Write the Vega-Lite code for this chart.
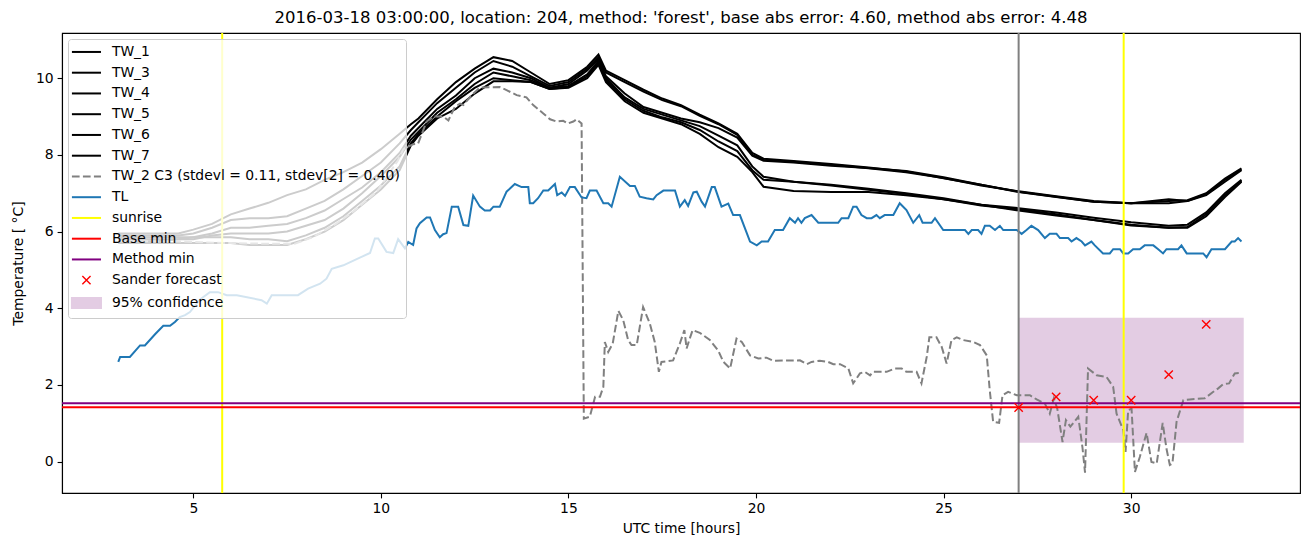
{
"$schema": "https://vega.github.io/schema/vega-lite/v6.json",
"width": 1238, "height": 460,
"autosize": "none",
"padding": {"left": 62, "top": 33, "right": 10, "bottom": 54},
"background": "white",
"title": {"text": "2016-03-18 03:00:00, location: 204, method: 'forest', base abs error: 4.60, method abs error: 4.48", "fontSize": 16.5, "font": "DejaVu Sans", "fontWeight": "normal", "color": "black", "offset": 6, "anchor": "middle"},
"config": {
  "font": "DejaVu Sans",
  "view": {"stroke": "black", "strokeWidth": 1.1},
  "axis": {"grid": false, "domainColor": "black", "tickColor": "black", "labelColor": "black", "titleColor": "black", "labelFontSize": 13.9, "titleFontSize": 13.9, "titleFontWeight": "normal", "tickSize": 4.9, "labelPadding": 4, "domainWidth": 1.1, "tickWidth": 1.1, "labelFont": "DejaVu Sans", "titleFont": "DejaVu Sans"},
  "legend": {"orient": "top-left", "offset": 6, "padding": 6, "symbolSize": 196, "rowPadding": 5.75, "labelOffset": 24, "labelFontSize": 13.9, "labelFont": "DejaVu Sans", "labelColor": "black", "labelLimit": 600, "fillColor": "rgba(255,255,255,0.8)", "strokeColor": "#cccccc", "cornerRadius": 3, "zindex": 1}
},
"datasets": {
"tw": [
{"t":3,"TW_1":5.95,"TW_3":5.9,"TW_4":5.85,"TW_5":5.8,"TW_6":5.75,"TW_7":5.7},
{"t":4,"TW_1":5.95,"TW_3":5.9,"TW_4":5.85,"TW_5":5.8,"TW_6":5.75,"TW_7":5.7},
{"t":4.6,"TW_1":5.95,"TW_3":5.9,"TW_4":5.85,"TW_5":5.8,"TW_6":5.8,"TW_7":5.7},
{"t":5,"TW_1":6.05,"TW_3":5.95,"TW_4":5.85,"TW_5":5.8,"TW_6":5.85,"TW_7":5.7},
{"t":5.5,"TW_1":6.2,"TW_3":6.1,"TW_4":5.95,"TW_5":5.9,"TW_6":5.85,"TW_7":5.7},
{"t":6,"TW_1":6.45,"TW_3":6.3,"TW_4":6.1,"TW_5":5.95,"TW_6":5.85,"TW_7":5.7},
{"t":6.5,"TW_1":6.6,"TW_3":6.35,"TW_4":6.1,"TW_5":5.95,"TW_6":5.8,"TW_7":5.65},
{"t":7,"TW_1":6.75,"TW_3":6.35,"TW_4":6.15,"TW_5":5.95,"TW_6":5.8,"TW_7":5.65},
{"t":7.5,"TW_1":6.95,"TW_3":6.4,"TW_4":6.2,"TW_5":6.0,"TW_6":5.75,"TW_7":5.65},
{"t":8,"TW_1":7.1,"TW_3":6.6,"TW_4":6.35,"TW_5":6.15,"TW_6":5.9,"TW_7":5.8},
{"t":8.5,"TW_1":7.35,"TW_3":6.8,"TW_4":6.55,"TW_5":6.3,"TW_6":6.1,"TW_7":6.0},
{"t":9,"TW_1":7.55,"TW_3":7.1,"TW_4":6.85,"TW_5":6.6,"TW_6":6.4,"TW_7":6.3},
{"t":9.5,"TW_1":7.8,"TW_3":7.45,"TW_4":7.15,"TW_5":7.0,"TW_6":6.8,"TW_7":6.7},
{"t":10,"TW_1":8.15,"TW_3":7.8,"TW_4":7.55,"TW_5":7.45,"TW_6":7.2,"TW_7":7.1},
{"t":10.5,"TW_1":8.55,"TW_3":8.3,"TW_4":8.05,"TW_5":7.95,"TW_6":7.7,"TW_7":7.6},
{"t":10.8,"TW_1":8.8,"TW_3":8.65,"TW_4":8.5,"TW_5":8.4,"TW_6":8.3,"TW_7":8.25},
{"t":11,"TW_1":8.95,"TW_3":8.85,"TW_4":8.7,"TW_5":8.6,"TW_6":8.55,"TW_7":8.5},
{"t":11.5,"TW_1":9.45,"TW_3":9.35,"TW_4":9.2,"TW_5":9.1,"TW_6":9.0,"TW_7":8.95},
{"t":12,"TW_1":9.9,"TW_3":9.75,"TW_4":9.55,"TW_5":9.45,"TW_6":9.4,"TW_7":9.2},
{"t":12.5,"TW_1":10.25,"TW_3":10.15,"TW_4":10.0,"TW_5":9.85,"TW_6":9.75,"TW_7":9.6},
{"t":13,"TW_1":10.55,"TW_3":10.45,"TW_4":10.25,"TW_5":10.15,"TW_6":10.0,"TW_7":9.92},
{"t":13.5,"TW_1":10.45,"TW_3":10.3,"TW_4":10.15,"TW_5":10.05,"TW_6":9.95,"TW_7":9.92},
{"t":14,"TW_1":10.15,"TW_3":10.05,"TW_4":10.0,"TW_5":9.95,"TW_6":9.9,"TW_7":9.9},
{"t":14.5,"TW_1":9.85,"TW_3":9.8,"TW_4":9.75,"TW_5":9.75,"TW_6":9.72,"TW_7":9.72},
{"t":15,"TW_1":9.95,"TW_3":9.9,"TW_4":9.85,"TW_5":9.8,"TW_6":9.77,"TW_7":9.75},
{"t":15.5,"TW_1":10.3,"TW_3":10.25,"TW_4":10.2,"TW_5":10.1,"TW_6":10.05,"TW_7":10.0},
{"t":15.8,"TW_1":10.62,"TW_3":10.55,"TW_4":10.5,"TW_5":10.45,"TW_6":10.4,"TW_7":10.35},
{"t":16,"TW_1":10.2,"TW_3":10.15,"TW_4":10.05,"TW_5":10.0,"TW_6":9.95,"TW_7":9.9},
{"t":16.5,"TW_1":9.95,"TW_3":9.9,"TW_4":9.6,"TW_5":9.5,"TW_6":9.45,"TW_7":9.4},
{"t":17,"TW_1":9.7,"TW_3":9.65,"TW_4":9.25,"TW_5":9.2,"TW_6":9.15,"TW_7":9.1},
{"t":17.5,"TW_1":9.47,"TW_3":9.43,"TW_4":9.1,"TW_5":9.05,"TW_6":8.98,"TW_7":8.95},
{"t":18,"TW_1":9.3,"TW_3":9.27,"TW_4":8.95,"TW_5":8.9,"TW_6":8.85,"TW_7":8.8},
{"t":18.5,"TW_1":9.05,"TW_3":9.02,"TW_4":8.85,"TW_5":8.75,"TW_6":8.65,"TW_7":8.55},
{"t":19,"TW_1":8.82,"TW_3":8.8,"TW_4":8.7,"TW_5":8.5,"TW_6":8.35,"TW_7":8.2},
{"t":19.5,"TW_1":8.55,"TW_3":8.52,"TW_4":8.45,"TW_5":8.25,"TW_6":8.1,"TW_7":7.95},
{"t":19.9,"TW_1":8.05,"TW_3":8.0,"TW_4":7.98,"TW_5":7.7,"TW_6":7.6,"TW_7":7.55},
{"t":20.2,"TW_1":7.9,"TW_3":7.87,"TW_4":7.85,"TW_5":7.43,"TW_6":7.35,"TW_7":7.17},
{"t":21,"TW_1":7.84,"TW_3":7.82,"TW_4":7.8,"TW_5":7.3,"TW_6":7.3,"TW_7":7.06},
{"t":22,"TW_1":7.76,"TW_3":7.74,"TW_4":7.72,"TW_5":7.22,"TW_6":7.2,"TW_7":7.03},
{"t":23,"TW_1":7.67,"TW_3":7.65,"TW_4":7.66,"TW_5":7.12,"TW_6":7.09,"TW_7":7.03},
{"t":24,"TW_1":7.57,"TW_3":7.55,"TW_4":7.58,"TW_5":7.0,"TW_6":6.98,"TW_7":6.95},
{"t":25,"TW_1":7.39,"TW_3":7.4,"TW_4":7.42,"TW_5":6.87,"TW_6":6.84,"TW_7":6.84},
{"t":26,"TW_1":7.22,"TW_3":7.2,"TW_4":7.22,"TW_5":6.7,"TW_6":6.68,"TW_7":6.7},
{"t":27,"TW_1":7.04,"TW_3":7.05,"TW_4":7.03,"TW_5":6.61,"TW_6":6.58,"TW_7":6.55},
{"t":28,"TW_1":6.91,"TW_3":6.92,"TW_4":6.9,"TW_5":6.5,"TW_6":6.45,"TW_7":6.42},
{"t":29,"TW_1":6.78,"TW_3":6.8,"TW_4":6.78,"TW_5":6.36,"TW_6":6.3,"TW_7":6.3},
{"t":30,"TW_1":6.74,"TW_3":6.74,"TW_4":6.74,"TW_5":6.24,"TW_6":6.18,"TW_7":6.16},
{"t":31,"TW_1":6.8,"TW_3":6.84,"TW_4":6.74,"TW_5":6.15,"TW_6":6.1,"TW_7":6.1},
{"t":31.5,"TW_1":6.82,"TW_3":6.8,"TW_4":6.8,"TW_5":6.18,"TW_6":6.12,"TW_7":6.1},
{"t":32,"TW_1":7.0,"TW_3":6.98,"TW_4":6.95,"TW_5":6.5,"TW_6":6.45,"TW_7":6.4},
{"t":32.5,"TW_1":7.38,"TW_3":7.35,"TW_4":7.3,"TW_5":7.0,"TW_6":6.95,"TW_7":6.9},
{"t":32.94,"TW_1":7.65,"TW_3":7.62,"TW_4":7.6,"TW_5":7.35,"TW_6":7.32,"TW_7":7.3}
],
"tw2": [
{"t":3,"v":5.75},{"t":4.5,"v":5.75},{"t":5.2,"v":5.72},{"t":6,"v":5.7},{"t":7,"v":5.68},{"t":7.7,"v":5.68},{"t":8.2,"v":5.86},{"t":8.8,"v":6.2},{"t":9.3,"v":6.55},{"t":9.9,"v":7.05},{"t":10.45,"v":7.85},{"t":10.6,"v":8.15},{"t":10.86,"v":8.28},{"t":10.99,"v":8.29},{"t":11.22,"v":8.87},{"t":11.4,"v":9.0},{"t":11.66,"v":9.0},{"t":11.8,"v":8.9},{"t":11.97,"v":9.25},{"t":12.11,"v":9.34},{"t":12.2,"v":9.3},{"t":12.42,"v":9.56},{"t":12.64,"v":9.76},{"t":13.17,"v":9.77},{"t":13.35,"v":9.69},{"t":13.62,"v":9.56},{"t":13.88,"v":9.5},{"t":14.06,"v":9.3},{"t":14.33,"v":9.08},{"t":14.51,"v":8.93},{"t":14.68,"v":8.87},{"t":14.86,"v":8.89},{"t":14.99,"v":8.82},{"t":15.13,"v":8.87},{"t":15.22,"v":8.93},{"t":15.35,"v":8.82},{"t":15.41,"v":1.12},{"t":15.57,"v":1.17},{"t":15.71,"v":1.69},{"t":15.84,"v":1.69},{"t":15.93,"v":1.95},{"t":15.97,"v":3.12},{"t":16.06,"v":2.86},{"t":16.18,"v":3.08},{"t":16.33,"v":3.93},{"t":16.46,"v":3.69},{"t":16.59,"v":3.17},{"t":16.68,"v":3.04},{"t":16.82,"v":3.04},{"t":16.99,"v":4.03},{"t":17.17,"v":3.6},{"t":17.3,"v":3.12},{"t":17.41,"v":2.34},{"t":17.48,"v":2.6},{"t":17.79,"v":2.64},{"t":17.97,"v":3.08},{"t":18.09,"v":3.43},{"t":18.15,"v":2.95},{"t":18.22,"v":3.17},{"t":18.31,"v":3.43},{"t":18.5,"v":3.36},{"t":18.77,"v":3.17},{"t":18.99,"v":2.9},{"t":19.13,"v":2.6},{"t":19.31,"v":2.43},{"t":19.48,"v":3.21},{"t":19.62,"v":3.12},{"t":19.84,"v":2.77},{"t":20.06,"v":2.69},{"t":20.28,"v":2.71},{"t":20.46,"v":2.63},{"t":21.17,"v":2.64},{"t":21.35,"v":2.54},{"t":21.48,"v":2.6},{"t":21.7,"v":2.63},{"t":21.92,"v":2.6},{"t":22.06,"v":2.54},{"t":22.24,"v":2.54},{"t":22.46,"v":2.43},{"t":22.59,"v":2.04},{"t":22.77,"v":2.3},{"t":22.9,"v":2.34},{"t":23.04,"v":2.25},{"t":23.12,"v":2.34},{"t":23.48,"v":2.34},{"t":23.7,"v":2.43},{"t":23.88,"v":2.43},{"t":24.01,"v":2.34},{"t":24.28,"v":2.34},{"t":24.41,"v":2.04},{"t":24.55,"v":2.73},{"t":24.62,"v":3.24},{"t":24.81,"v":3.24},{"t":24.95,"v":2.99},{"t":25.08,"v":2.56},{"t":25.21,"v":3.17},{"t":25.35,"v":3.24},{"t":25.52,"v":3.17},{"t":25.79,"v":3.12},{"t":25.97,"v":3.04},{"t":26.15,"v":2.77},{"t":26.23,"v":1.86},{"t":26.32,"v":1.04},{"t":26.48,"v":1.01},{"t":26.57,"v":1.73},{"t":26.72,"v":1.82},{"t":26.95,"v":1.73},{"t":27.3,"v":1.73},{"t":27.48,"v":1.62},{"t":27.7,"v":1.51},{"t":27.83,"v":1.25},{"t":27.94,"v":1.65},{"t":28.03,"v":1.38},{"t":28.17,"v":0.51},{"t":28.26,"v":1.08},{"t":28.38,"v":0.91},{"t":28.59,"v":1.17},{"t":28.7,"v":0.38},{"t":28.77,"v":-0.29},{"t":28.85,"v":2.43},{"t":29.08,"v":2.25},{"t":29.34,"v":2.21},{"t":29.52,"v":1.95},{"t":29.61,"v":1.25},{"t":29.79,"v":0.82},{"t":29.85,"v":0.25},{"t":29.92,"v":1.34},{"t":30.01,"v":1.38},{"t":30.1,"v":-0.27},{"t":30.23,"v":0.12},{"t":30.41,"v":0.75},{"t":30.54,"v":-0.01},{"t":30.68,"v":-0.05},{"t":30.84,"v":1.01},{"t":30.94,"v":0.34},{"t":31.03,"v":-0.09},{"t":31.1,"v":-0.05},{"t":31.21,"v":1.04},{"t":31.39,"v":1.6},{"t":31.56,"v":1.62},{"t":31.96,"v":1.65},{"t":32.19,"v":1.82},{"t":32.32,"v":1.91},{"t":32.45,"v":2.02},{"t":32.61,"v":2.04},{"t":32.76,"v":2.3},{"t":32.9,"v":2.31},{"t":32.94,"v":2.34}
],
"tl": [
{"t":3.0,"v":2.6},{"t":3.05,"v":2.73},{"t":3.31,"v":2.73},{"t":3.58,"v":3.03},{"t":3.71,"v":3.03},{"t":3.98,"v":3.32},{"t":4.2,"v":3.54},{"t":4.38,"v":3.54},{"t":4.51,"v":3.64},{"t":4.64,"v":3.77},{"t":4.78,"v":3.82},{"t":4.91,"v":3.9},{"t":5.18,"v":4.23},{"t":5.44,"v":4.42},{"t":5.66,"v":4.42},{"t":5.89,"v":4.34},{"t":6.16,"v":4.34},{"t":6.82,"v":4.21},{"t":6.96,"v":4.12},{"t":7.09,"v":4.34},{"t":7.79,"v":4.34},{"t":8.06,"v":4.51},{"t":8.38,"v":4.64},{"t":8.55,"v":4.77},{"t":8.69,"v":5.03},{"t":9.0,"v":5.12},{"t":9.44,"v":5.32},{"t":9.71,"v":5.44},{"t":9.84,"v":5.82},{"t":9.93,"v":5.82},{"t":10.15,"v":5.47},{"t":10.33,"v":5.44},{"t":10.46,"v":5.8},{"t":10.64,"v":5.56},{"t":10.73,"v":5.73},{"t":10.86,"v":5.65},{"t":10.95,"v":6.08},{"t":11.04,"v":6.22},{"t":11.22,"v":6.37},{"t":11.31,"v":6.37},{"t":11.44,"v":6.04},{"t":11.57,"v":5.85},{"t":11.66,"v":5.93},{"t":11.75,"v":5.96},{"t":11.89,"v":6.65},{"t":12.06,"v":6.65},{"t":12.2,"v":6.17},{"t":12.33,"v":6.15},{"t":12.46,"v":6.94},{"t":12.64,"v":6.65},{"t":12.77,"v":6.55},{"t":12.91,"v":6.55},{"t":13.0,"v":6.65},{"t":13.17,"v":6.65},{"t":13.35,"v":7.04},{"t":13.57,"v":7.24},{"t":13.75,"v":7.16},{"t":13.93,"v":7.16},{"t":13.97,"v":6.74},{"t":14.06,"v":6.74},{"t":14.19,"v":6.87},{"t":14.33,"v":7.07},{"t":14.46,"v":7.07},{"t":14.64,"v":7.24},{"t":14.7,"v":6.95},{"t":14.82,"v":7.02},{"t":14.91,"v":6.93},{"t":15.04,"v":7.16},{"t":15.17,"v":7.16},{"t":15.35,"v":6.89},{"t":15.48,"v":6.87},{"t":15.57,"v":7.07},{"t":15.75,"v":7.07},{"t":15.93,"v":6.74},{"t":16.06,"v":6.74},{"t":16.15,"v":6.65},{"t":16.37,"v":7.43},{"t":16.64,"v":7.19},{"t":16.77,"v":7.19},{"t":16.9,"v":6.91},{"t":17.08,"v":6.87},{"t":17.26,"v":6.84},{"t":17.35,"v":6.95},{"t":17.53,"v":7.07},{"t":17.84,"v":7.07},{"t":17.97,"v":6.65},{"t":18.1,"v":6.82},{"t":18.19,"v":6.67},{"t":18.33,"v":7.02},{"t":18.42,"v":7.04},{"t":18.55,"v":6.78},{"t":18.64,"v":6.65},{"t":18.82,"v":7.16},{"t":18.9,"v":7.16},{"t":19.08,"v":6.65},{"t":19.26,"v":6.73},{"t":19.39,"v":6.43},{"t":19.57,"v":6.43},{"t":19.84,"v":5.74},{"t":20.02,"v":5.64},{"t":20.15,"v":5.74},{"t":20.32,"v":5.74},{"t":20.5,"v":6.04},{"t":20.72,"v":6.04},{"t":20.9,"v":6.35},{"t":21.04,"v":6.23},{"t":21.12,"v":6.35},{"t":21.21,"v":6.23},{"t":21.3,"v":6.35},{"t":21.48,"v":6.43},{"t":21.66,"v":6.23},{"t":22.19,"v":6.23},{"t":22.28,"v":6.35},{"t":22.46,"v":6.35},{"t":22.59,"v":6.65},{"t":22.68,"v":6.65},{"t":22.81,"v":6.43},{"t":22.95,"v":6.35},{"t":23.08,"v":6.35},{"t":23.21,"v":6.43},{"t":23.3,"v":6.35},{"t":23.43,"v":6.43},{"t":23.66,"v":6.43},{"t":23.83,"v":6.74},{"t":24.01,"v":6.56},{"t":24.19,"v":6.23},{"t":24.35,"v":6.43},{"t":24.44,"v":6.23},{"t":24.68,"v":6.23},{"t":24.77,"v":6.35},{"t":24.99,"v":6.04},{"t":25.57,"v":6.04},{"t":25.66,"v":5.94},{"t":25.75,"v":6.04},{"t":25.92,"v":6.04},{"t":26.01,"v":5.94},{"t":26.1,"v":6.15},{"t":26.23,"v":6.15},{"t":26.37,"v":6.04},{"t":26.5,"v":6.15},{"t":26.59,"v":6.04},{"t":26.95,"v":6.04},{"t":27.08,"v":5.94},{"t":27.21,"v":6.04},{"t":27.34,"v":6.15},{"t":27.52,"v":6.04},{"t":27.7,"v":5.83},{"t":27.83,"v":5.94},{"t":28.01,"v":5.94},{"t":28.1,"v":5.83},{"t":28.32,"v":5.83},{"t":28.41,"v":5.74},{"t":28.54,"v":5.83},{"t":28.68,"v":5.74},{"t":28.77,"v":5.64},{"t":28.94,"v":5.74},{"t":29.03,"v":5.64},{"t":29.25,"v":5.43},{"t":29.43,"v":5.43},{"t":29.52,"v":5.54},{"t":29.7,"v":5.54},{"t":29.79,"v":5.43},{"t":29.92,"v":5.43},{"t":30.05,"v":5.54},{"t":30.23,"v":5.54},{"t":30.36,"v":5.64},{"t":30.59,"v":5.64},{"t":30.72,"v":5.54},{"t":30.85,"v":5.43},{"t":30.94,"v":5.54},{"t":31.25,"v":5.54},{"t":31.34,"v":5.64},{"t":31.48,"v":5.43},{"t":31.92,"v":5.43},{"t":32.01,"v":5.33},{"t":32.14,"v":5.54},{"t":32.5,"v":5.54},{"t":32.68,"v":5.74},{"t":32.76,"v":5.74},{"t":32.85,"v":5.83},{"t":32.94,"v":5.74}
],
"sander": [{"t":27,"v":1.41,"s":"Sander forecast"},{"t":28,"v":1.69,"s":"Sander forecast"},{"t":29,"v":1.6,"s":"Sander forecast"},{"t":30,"v":1.6,"s":"Sander forecast"},{"t":31,"v":2.27,"s":"Sander forecast"},{"t":32,"v":3.58,"s":"Sander forecast"}],
"conf": [{"t0":27,"t1":33,"lo":0.49,"hi":3.75,"s":"95% confidence"}],
"vlines": [{"t":5.77,"s":"sunrise"},{"t":29.8,"s":"sunrise"}],
"cut": [{"t":27}],
"hlines": [{"v":1.42,"s":"Base min"},{"v":1.52,"s":"Method min"}]
},
"layer": [
{
  "data": {"name": "tw"},
  "transform": [{"fold": ["TW_1","TW_3","TW_4","TW_5","TW_6","TW_7"], "as": ["s","v"]}],
  "mark": {"type": "line", "strokeWidth": 2},
  "encoding": {
    "x": {"field": "t", "type": "quantitative", "scale": {"domain": [1.5, 34.5], "nice": false, "zero": false}, "axis": {"values": [5,10,15,20,25,30], "title": "UTC time [hours]", "titlePadding": 6}},
    "y": {"field": "v", "type": "quantitative", "scale": {"domain": [-0.82, 11.18], "nice": false, "zero": false}, "axis": {"values": [0,2,4,6,8,10], "title": "Temperature [ °C]", "titlePadding": 10}},
    "color": {"field": "s", "type": "nominal",
      "scale": {"domain": ["TW_1","TW_3","TW_4","TW_5","TW_6","TW_7","TW_2 C3 (stdevl = 0.11, stdev[2] = 0.40)","TL","sunrise","Base min","Method min","Sander forecast","95% confidence"], "range": ["black","black","black","black","black","black","gray","#1f77b4","yellow","red","purple","red","#e3cce3"]},
      "legend": {"title": null,
        "encode": {"symbols": {"update": {
          "shape": {"signal": "datum.value === 'Sander forecast' ? 'M0.2,-0.59L1.37,0.59M1.37,-0.59L0.2,0.59' : datum.value === '95% confidence' ? 'M-1.29,-0.71H2.86V0.71H-1.29Z' : 'M-1.29,0H2.86'"},
          "stroke": {"signal": "datum.value === '95% confidence' ? 'transparent' : datum.value === 'TL' ? '#1f77b4' : datum.value === 'sunrise' ? 'yellow' : (datum.value === 'Base min' || datum.value === 'Sander forecast') ? 'red' : datum.value === 'Method min' ? 'purple' : indexof(datum.value, 'TW_2') === 0 ? 'gray' : 'black'"},
          "fill": {"signal": "datum.value === '95% confidence' ? '#e3cce3' : 'transparent'"},
          "strokeDash": {"signal": "indexof(datum.value, 'TW_2') === 0 ? [7.7, 3.3] : []"},
          "strokeWidth": {"signal": "datum.value === 'Sander forecast' ? 1.4 : 2"},
          "opacity": {"value": 1},
          "size": {"value": 196}
        }}}
      }
    }
  }
},
{
  "data": {"name": "conf"},
  "mark": {"type": "rect", "opacity": 1},
  "encoding": {
    "x": {"field": "t0", "type": "quantitative", "scale": {"domain": [1.5, 34.5], "nice": false, "zero": false}},
    "x2": {"field": "t1"},
    "y": {"field": "lo", "type": "quantitative", "scale": {"domain": [-0.82, 11.18], "nice": false, "zero": false}},
    "y2": {"field": "hi"},
    "color": {"field": "s", "type": "nominal"}
  }
},
{
  "data": {"name": "tw2"},
  "mark": {"type": "line", "strokeWidth": 2, "strokeDash": [7.7, 3.3]},
  "encoding": {
    "x": {"field": "t", "type": "quantitative", "scale": {"domain": [1.5, 34.5], "nice": false, "zero": false}},
    "y": {"field": "v", "type": "quantitative", "scale": {"domain": [-0.82, 11.18], "nice": false, "zero": false}},
    "color": {"datum": "TW_2 C3 (stdevl = 0.11, stdev[2] = 0.40)", "type": "nominal"}
  }
},
{
  "data": {"name": "tl"},
  "mark": {"type": "line", "strokeWidth": 2},
  "encoding": {
    "x": {"field": "t", "type": "quantitative", "scale": {"domain": [1.5, 34.5], "nice": false, "zero": false}},
    "y": {"field": "v", "type": "quantitative", "scale": {"domain": [-0.82, 11.18], "nice": false, "zero": false}},
    "color": {"datum": "TL", "type": "nominal"}
  }
},
{
  "data": {"name": "vlines"},
  "mark": {"type": "rule", "strokeWidth": 2},
  "encoding": {
    "x": {"field": "t", "type": "quantitative", "scale": {"domain": [1.5, 34.5], "nice": false, "zero": false}},
    "color": {"field": "s", "type": "nominal"}
  }
},
{
  "data": {"name": "cut"},
  "mark": {"type": "rule", "strokeWidth": 2, "color": "gray"},
  "encoding": {
    "x": {"field": "t", "type": "quantitative", "scale": {"domain": [1.5, 34.5], "nice": false, "zero": false}}
  }
},
{
  "data": {"name": "hlines"},
  "mark": {"type": "rule", "strokeWidth": 2},
  "encoding": {
    "y": {"field": "v", "type": "quantitative", "scale": {"domain": [-0.82, 11.18], "nice": false, "zero": false}},
    "color": {"field": "s", "type": "nominal"}
  }
},
{
  "data": {"name": "sander"},
  "mark": {"type": "point", "shape": "M-1,-1L1,1M1,-1L-1,1", "filled": false, "size": 69, "strokeWidth": 1.4, "opacity": 1},
  "encoding": {
    "x": {"field": "t", "type": "quantitative", "scale": {"domain": [1.5, 34.5], "nice": false, "zero": false}},
    "y": {"field": "v", "type": "quantitative", "scale": {"domain": [-0.82, 11.18], "nice": false, "zero": false}},
    "color": {"field": "s", "type": "nominal"}
  }
}
]
}
